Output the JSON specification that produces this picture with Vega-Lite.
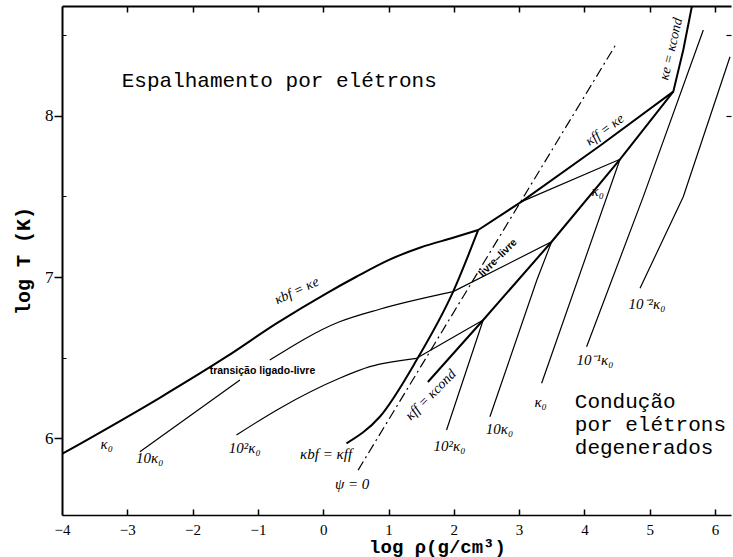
{
  "$schema": "https://vega.github.io/schema/vega-lite/v6.json",
  "width": 669,
  "height": 509,
  "autosize": {"type": "none"},
  "padding": {"left": 62, "top": 6, "right": 2, "bottom": 42},
  "background": "white",
  "config": {
    "view": {"stroke": null},
    "axis": {"grid": false, "domainColor": "black", "tickColor": "black", "labelColor": "black", "titleColor": "black"}
  },
  "datasets": {
    "lines": [
      {"c": "mains", "t": "bs", "i": 0, "x": -4.0, "y": 5.901},
      {"c": "mains", "t": "bs", "i": 1, "x": -2.503, "y": 6.25},
      {"c": "mains", "t": "bs", "i": 2, "x": -1.481, "y": 6.505},
      {"c": "mains", "t": "bs", "i": 3, "x": -0.715, "y": 6.712},
      {"c": "mains", "t": "bs", "i": 4, "x": 0.051, "y": 6.899},
      {"c": "mains", "t": "bs", "i": 5, "x": 0.5, "y": 7.0},
      {"c": "mains", "t": "bs", "i": 6, "x": 1.0, "y": 7.105},
      {"c": "mains", "t": "bs", "i": 7, "x": 1.5, "y": 7.185},
      {"c": "mains", "t": "bs", "i": 8, "x": 2.0, "y": 7.245},
      {"c": "mains", "t": "bs", "i": 9, "x": 2.374, "y": 7.292},
      {"c": "mainl", "t": "b", "i": 0, "x": 2.374, "y": 7.292},
      {"c": "mainl", "t": "b", "i": 1, "x": 3.038, "y": 7.468},
      {"c": "mainl", "t": "b", "i": 2, "x": 4.238, "y": 7.815},
      {"c": "mainl", "t": "b", "i": 3, "x": 5.361, "y": 8.151},
      {"c": "mainl", "t": "b", "i": 4, "x": 5.514, "y": 8.41},
      {"c": "mainl", "t": "b", "i": 5, "x": 5.647, "y": 8.683},
      {"c": "bfff", "t": "bs", "i": 0, "x": 0.357, "y": 5.967},
      {"c": "bfff", "t": "bs", "i": 1, "x": 0.867, "y": 6.132},
      {"c": "bfff", "t": "bs", "i": 2, "x": 1.43, "y": 6.484},
      {"c": "bfff", "t": "bs", "i": 3, "x": 1.99, "y": 6.909},
      {"c": "bfff", "t": "bs", "i": 4, "x": 2.374, "y": 7.292},
      {"c": "ffcond", "t": "b", "i": 0, "x": 1.603, "y": 6.348},
      {"c": "ffcond", "t": "b", "i": 1, "x": 2.45, "y": 6.733},
      {"c": "ffcond", "t": "b", "i": 2, "x": 3.498, "y": 7.219},
      {"c": "ffcond", "t": "b", "i": 3, "x": 4.545, "y": 7.731},
      {"c": "ffcond", "t": "b", "i": 4, "x": 5.361, "y": 8.151},
      {"c": "psi", "t": "d", "i": 0, "x": 0.535, "y": 5.801},
      {"c": "psi", "t": "d", "i": 1, "x": 4.494, "y": 8.452},
      {"c": "k10a", "t": "c", "i": 0, "x": -2.807, "y": 5.915},
      {"c": "k10a", "t": "c", "i": 1, "x": -1.275, "y": 6.36},
      {"c": "k10s", "t": "cs", "i": 0, "x": -0.818, "y": 6.484},
      {"c": "k10s", "t": "cs", "i": 1, "x": 0.25, "y": 6.722},
      {"c": "k10s", "t": "cs", "i": 2, "x": 0.863, "y": 6.8},
      {"c": "k10s", "t": "cs", "i": 3, "x": 1.99, "y": 6.909},
      {"c": "k10l", "t": "c", "i": 0, "x": 1.99, "y": 6.909},
      {"c": "k10l", "t": "c", "i": 1, "x": 3.498, "y": 7.219},
      {"c": "k10l", "t": "c", "i": 2, "x": 3.272, "y": 6.981},
      {"c": "k10l", "t": "c", "i": 3, "x": 2.553, "y": 6.132},
      {"c": "k100s", "t": "cs", "i": 0, "x": -1.328, "y": 6.019},
      {"c": "k100s", "t": "cs", "i": 1, "x": -0.668, "y": 6.184},
      {"c": "k100s", "t": "cs", "i": 2, "x": 0.25, "y": 6.371},
      {"c": "k100s", "t": "cs", "i": 3, "x": 0.714, "y": 6.443},
      {"c": "k100s", "t": "cs", "i": 4, "x": 1.43, "y": 6.495},
      {"c": "k100l", "t": "c", "i": 0, "x": 1.43, "y": 6.495},
      {"c": "k100l", "t": "c", "i": 1, "x": 2.45, "y": 6.733},
      {"c": "k100l", "t": "c", "i": 2, "x": 1.889, "y": 6.05},
      {"c": "k0", "t": "c", "i": 0, "x": 3.038, "y": 7.468},
      {"c": "k0", "t": "c", "i": 1, "x": 4.545, "y": 7.731},
      {"c": "k0", "t": "c", "i": 2, "x": 3.345, "y": 6.34},
      {"c": "km1", "t": "c", "i": 0, "x": 5.821, "y": 8.534},
      {"c": "km1", "t": "c", "i": 1, "x": 4.902, "y": 7.499},
      {"c": "km1", "t": "c", "i": 2, "x": 4.034, "y": 6.567},
      {"c": "km2", "t": "c", "i": 0, "x": 6.23, "y": 8.368},
      {"c": "km2", "t": "c", "i": 1, "x": 5.514, "y": 7.499},
      {"c": "km2", "t": "c", "i": 2, "x": 4.852, "y": 6.93}
    ],
    "labels": [
      {"id": "esp", "k": "region", "x": -3.085, "y": 8.18, "text": "Espalhamento por elétrons"},
      {"id": "c1", "k": "region", "x": 3.853, "y": 6.186, "text": "Condução"},
      {"id": "c2", "k": "region", "x": 3.853, "y": 6.043, "text": "por elétrons"},
      {"id": "c3", "k": "region", "x": 3.853, "y": 5.901, "text": "degenerados"},
      {"id": "a1", "k": "kappa", "x": -3.314, "y": 5.963, "text": "κ₀"},
      {"id": "a2", "k": "kappa", "x": -2.656, "y": 5.879, "text": "10κ₀"},
      {"id": "a3", "k": "kappa", "x": -1.202, "y": 5.938, "text": "10²κ₀"},
      {"id": "a4", "k": "kappa", "x": 0.045, "y": 5.901, "text": "κbf = κff"},
      {"id": "a5", "k": "kappa", "x": 0.443, "y": 5.714, "text": "ψ = 0"},
      {"id": "a6", "k": "kappa", "x": 1.935, "y": 5.95, "text": "10²κ₀"},
      {"id": "a7", "k": "kappa", "x": 2.701, "y": 6.056, "text": "10κ₀"},
      {"id": "a8", "k": "kappa", "x": 3.329, "y": 6.224, "text": "κ₀"},
      {"id": "a9", "k": "kappa", "x": 4.161, "y": 6.484, "text": "10⁻¹κ₀"},
      {"id": "a10", "k": "kappa", "x": 4.958, "y": 6.832, "text": "10⁻²κ₀"},
      {"id": "a11", "k": "kappa", "x": 4.204, "y": 7.534, "text": "κ₀"},
      {"id": "r1", "k": "rot", "x": 4.315, "y": 7.913, "text": "κff = κe"},
      {"id": "r2", "k": "rot", "x": 5.33, "y": 8.416, "text": "κe = κcond"},
      {"id": "r3", "k": "rot", "x": -0.404, "y": 6.913, "text": "κbf = κe"},
      {"id": "r4", "k": "rot", "x": 1.649, "y": 6.267, "text": "κff = κcond"},
      {"id": "n1", "k": "note", "x": -0.93, "y": 6.416, "text": "transição ligado-livre"},
      {"id": "n2", "k": "noterot", "x": 2.676, "y": 7.118, "text": "livre–livre"}
    ]
  },
  "layer": [
    {
      "data": {"name": "lines"},
      "transform": [{"filter": "datum.t === 'b'"}],
      "mark": {"type": "line", "color": "black", "strokeWidth": 2, "clip": true},
      "encoding": {
        "x": {"field": "x", "type": "quantitative", "scale": {"domain": [-4, 6.245], "nice": false, "zero": false},
          "axis": {"orient": "bottom", "values": [-4, -3, -2, -1, 0, 1, 2, 3, 4, 5, 6], "format": "d", "ticks": false, "domainWidth": 1.5, "labelPadding": 7, "labelFont": "Liberation Serif", "labelFontSize": 15, "labelFlush": false, "title": "log ρ(g/cm³)", "titleFont": "Liberation Mono", "titleFontSize": 19, "titleFontWeight": "bold", "titleX": 375, "titleY": 37, "titleBaseline": "alphabetic"}},
        "y": {"field": "y", "type": "quantitative", "scale": {"domain": [5.522, 8.683], "nice": false, "zero": false},
          "axis": {"orient": "left", "values": [6, 7, 8], "format": "d", "tickSize": 8, "tickWidth": 1.5, "domainWidth": 2, "labelPadding": 1, "labelFont": "Liberation Serif", "labelFontSize": 17, "title": "log T (K)", "titleFont": "Liberation Mono", "titleFontSize": 20, "titleFontWeight": "bold", "titleX": -33, "titleBaseline": "alphabetic"}},
        "detail": {"field": "c"},
        "order": {"field": "i"}
      }
    },
    {
      "data": {"name": "lines"},
      "transform": [{"filter": "datum.t === 'bs'"}],
      "mark": {"type": "line", "color": "black", "strokeWidth": 2, "interpolate": "monotone", "clip": true},
      "encoding": {
        "x": {"field": "x", "type": "quantitative", "scale": {"domain": [-4, 6.245], "nice": false, "zero": false},
          "axis": {"orient": "top", "ticks": false, "domainWidth": 2, "labels": false, "title": null}},
        "y": {"field": "y", "type": "quantitative", "scale": {"domain": [5.522, 8.683], "nice": false, "zero": false},
          "axis": {"orient": "right", "offset": -669, "values": [6.5, 7.5, 8.5], "tickSize": 4, "tickWidth": 1, "domain": false, "labels": false, "title": null}},
        "detail": {"field": "c"},
        "order": {"field": "i"}
      }
    },
    {
      "data": {"name": "lines"},
      "transform": [{"filter": "datum.t === 'c'"}],
      "mark": {"type": "line", "color": "black", "strokeWidth": 1.2, "clip": true},
      "encoding": {
        "x": {"field": "x", "type": "quantitative", "scale": {"domain": [-4, 6.245], "nice": false, "zero": false},
          "axis": {"orient": "top", "offset": -509, "values": [-3, -2, -1, 0, 1, 2, 3, 4, 5, 6], "tickSize": 6, "tickWidth": 1.5, "domain": false, "labels": false, "title": null}},
        "y": {"field": "y", "type": "quantitative", "scale": {"domain": [5.522, 8.683], "nice": false, "zero": false},
          "axis": {"orient": "left", "offset": -669, "values": [8, 8.5], "tickSize": 5, "tickWidth": 1.2, "domain": false, "labels": false, "title": null}},
        "detail": {"field": "c"},
        "order": {"field": "i"}
      }
    },
    {
      "data": {"name": "lines"},
      "transform": [{"filter": "datum.t === 'cs'"}],
      "mark": {"type": "line", "color": "black", "strokeWidth": 1.2, "interpolate": "monotone", "clip": true},
      "encoding": {
        "x": {"field": "x", "type": "quantitative", "scale": {"domain": [-4, 6.245], "nice": false, "zero": false},
          "axis": {"orient": "bottom", "offset": -509, "values": [-3, -2, -1, 0, 1, 2, 3, 4, 5, 6], "tickSize": 6, "tickWidth": 1.5, "domain": false, "labels": false, "title": null}},
        "y": {"field": "y", "type": "quantitative", "scale": {"domain": [5.522, 8.683], "nice": false, "zero": false}, "axis": null},
        "detail": {"field": "c"},
        "order": {"field": "i"}
      }
    },
    {
      "data": {"name": "lines"},
      "transform": [{"filter": "datum.t === 'd'"}],
      "mark": {"type": "line", "color": "black", "strokeWidth": 1.2, "strokeDash": [10, 4, 2, 4], "clip": true},
      "encoding": {
        "x": {"field": "x", "type": "quantitative", "scale": {"domain": [-4, 6.245], "nice": false, "zero": false}, "axis": null},
        "y": {"field": "y", "type": "quantitative", "scale": {"domain": [5.522, 8.683], "nice": false, "zero": false}, "axis": null},
        "detail": {"field": "c"},
        "order": {"field": "i"}
      }
    },
    {
      "data": {"name": "labels"},
      "transform": [{"filter": "datum.k === 'region'"}],
      "mark": {"type": "text", "font": "Liberation Mono", "fontSize": 21, "align": "left", "baseline": "alphabetic", "color": "black"},
      "encoding": {
        "x": {"field": "x", "type": "quantitative", "scale": {"domain": [-4, 6.245], "nice": false, "zero": false}, "axis": null},
        "y": {"field": "y", "type": "quantitative", "scale": {"domain": [5.522, 8.683], "nice": false, "zero": false}, "axis": null},
        "text": {"field": "text"}
      }
    },
    {
      "data": {"name": "labels"},
      "transform": [{"filter": "datum.k === 'kappa'"}],
      "mark": {"type": "text", "font": "Liberation Serif", "fontStyle": "italic", "fontSize": 15, "align": "center", "baseline": "middle", "color": "black"},
      "encoding": {
        "x": {"field": "x", "type": "quantitative", "scale": {"domain": [-4, 6.245], "nice": false, "zero": false}, "axis": null},
        "y": {"field": "y", "type": "quantitative", "scale": {"domain": [5.522, 8.683], "nice": false, "zero": false}, "axis": null},
        "text": {"field": "text"}
      }
    },
    {
      "data": {"name": "labels"},
      "transform": [{"filter": "datum.id === 'r1'"}],
      "mark": {"type": "text", "font": "Liberation Serif", "fontStyle": "italic", "fontSize": 14, "align": "center", "baseline": "middle", "angle": -36, "color": "black"},
      "encoding": {
        "x": {"field": "x", "type": "quantitative", "scale": {"domain": [-4, 6.245], "nice": false, "zero": false}, "axis": null},
        "y": {"field": "y", "type": "quantitative", "scale": {"domain": [5.522, 8.683], "nice": false, "zero": false}, "axis": null},
        "text": {"field": "text"}
      }
    },
    {
      "data": {"name": "labels"},
      "transform": [{"filter": "datum.id === 'r2'"}],
      "mark": {"type": "text", "font": "Liberation Serif", "fontStyle": "italic", "fontSize": 14, "align": "center", "baseline": "middle", "angle": -77, "color": "black"},
      "encoding": {
        "x": {"field": "x", "type": "quantitative", "scale": {"domain": [-4, 6.245], "nice": false, "zero": false}, "axis": null},
        "y": {"field": "y", "type": "quantitative", "scale": {"domain": [5.522, 8.683], "nice": false, "zero": false}, "axis": null},
        "text": {"field": "text"}
      }
    },
    {
      "data": {"name": "labels"},
      "transform": [{"filter": "datum.id === 'r3'"}],
      "mark": {"type": "text", "font": "Liberation Serif", "fontStyle": "italic", "fontSize": 14, "align": "center", "baseline": "middle", "angle": -25, "color": "black"},
      "encoding": {
        "x": {"field": "x", "type": "quantitative", "scale": {"domain": [-4, 6.245], "nice": false, "zero": false}, "axis": null},
        "y": {"field": "y", "type": "quantitative", "scale": {"domain": [5.522, 8.683], "nice": false, "zero": false}, "axis": null},
        "text": {"field": "text"}
      }
    },
    {
      "data": {"name": "labels"},
      "transform": [{"filter": "datum.id === 'r4'"}],
      "mark": {"type": "text", "font": "Liberation Serif", "fontStyle": "italic", "fontSize": 14, "align": "center", "baseline": "middle", "angle": -45, "color": "black"},
      "encoding": {
        "x": {"field": "x", "type": "quantitative", "scale": {"domain": [-4, 6.245], "nice": false, "zero": false}, "axis": null},
        "y": {"field": "y", "type": "quantitative", "scale": {"domain": [5.522, 8.683], "nice": false, "zero": false}, "axis": null},
        "text": {"field": "text"}
      }
    },
    {
      "data": {"name": "labels"},
      "transform": [{"filter": "datum.k === 'note'"}],
      "mark": {"type": "text", "font": "Liberation Sans", "fontWeight": "bold", "fontSize": 10.5, "align": "center", "baseline": "middle", "color": "black"},
      "encoding": {
        "x": {"field": "x", "type": "quantitative", "scale": {"domain": [-4, 6.245], "nice": false, "zero": false}, "axis": null},
        "y": {"field": "y", "type": "quantitative", "scale": {"domain": [5.522, 8.683], "nice": false, "zero": false}, "axis": null},
        "text": {"field": "text"}
      }
    },
    {
      "data": {"name": "labels"},
      "transform": [{"filter": "datum.k === 'noterot'"}],
      "mark": {"type": "text", "font": "Liberation Sans", "fontWeight": "bold", "fontSize": 10.5, "align": "center", "baseline": "middle", "angle": -45, "color": "black"},
      "encoding": {
        "x": {"field": "x", "type": "quantitative", "scale": {"domain": [-4, 6.245], "nice": false, "zero": false}, "axis": null},
        "y": {"field": "y", "type": "quantitative", "scale": {"domain": [5.522, 8.683], "nice": false, "zero": false}, "axis": null},
        "text": {"field": "text"}
      }
    }
  ],
  "resolve": {"axis": {"x": "independent", "y": "independent"}}
}
